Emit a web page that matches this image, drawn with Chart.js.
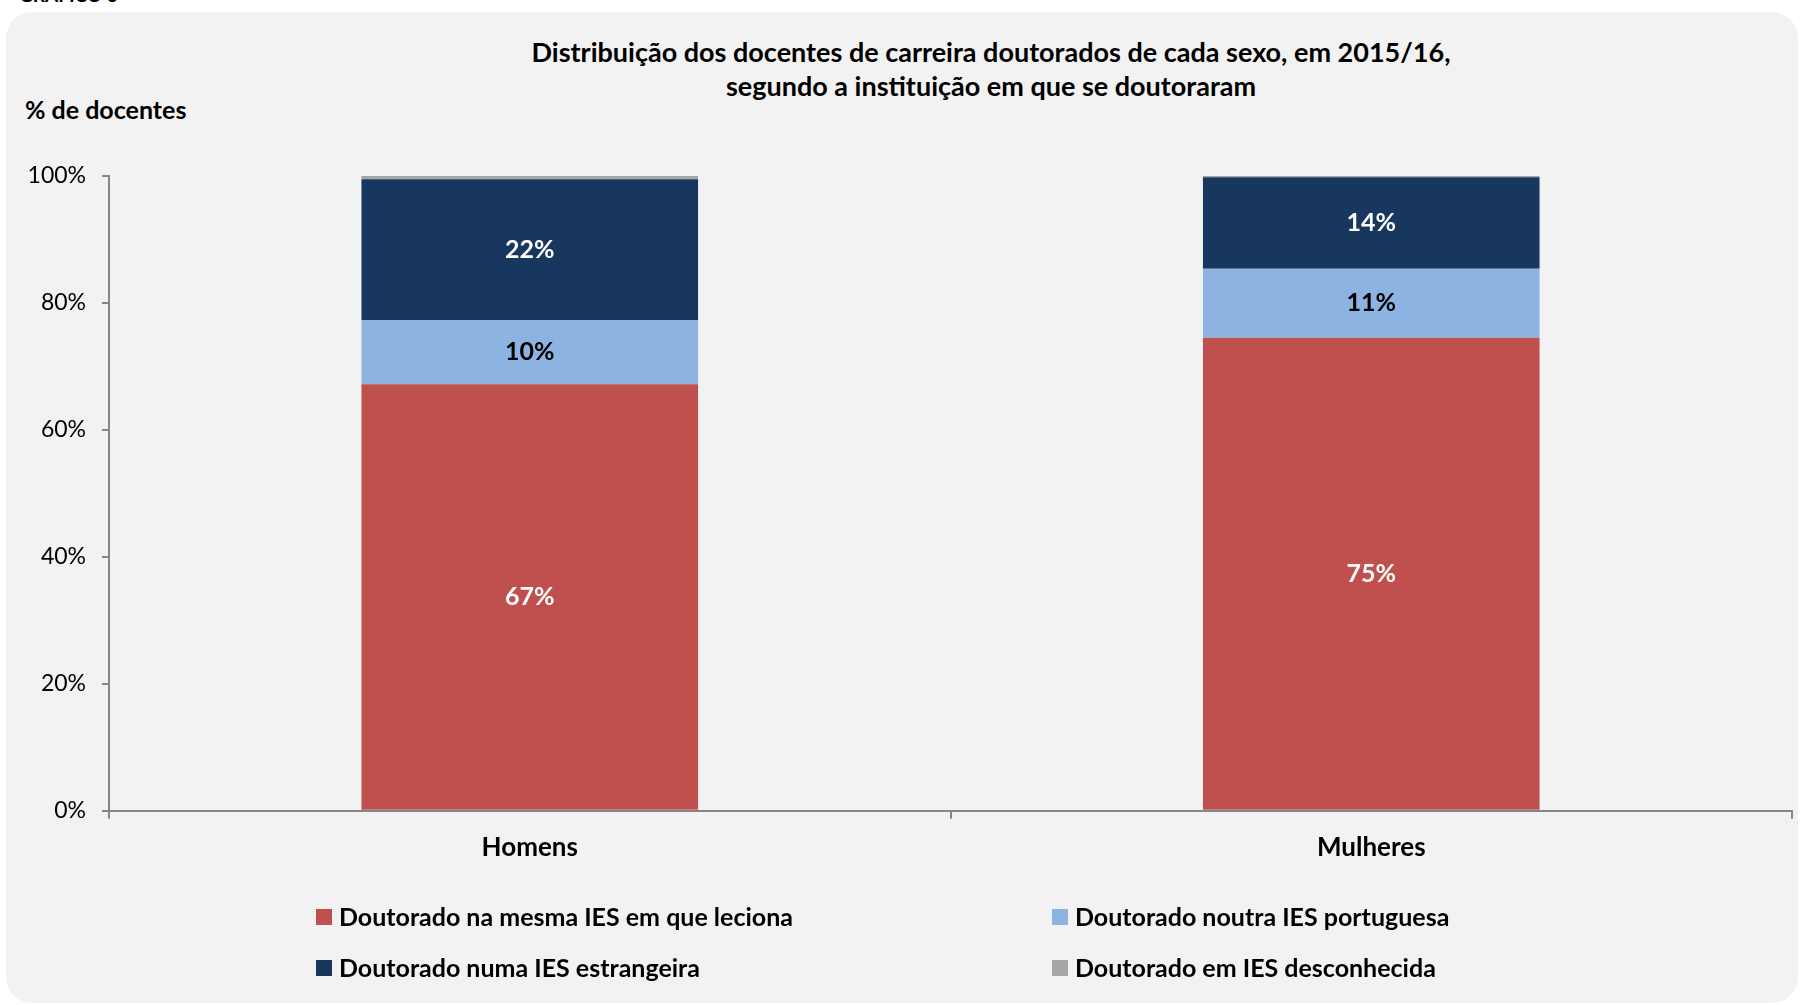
<!DOCTYPE html>
<html>
<head>
<meta charset="utf-8">
<script src="https://cdn.jsdelivr.net/npm/chart.js@4.4.1/dist/chart.umd.min.js"></script>
<style>
  html, body { margin:0; padding:0; background:#fff; }
  body { width:1803px; height:1005px; position:relative; overflow:hidden; font-family:'Lato', sans-serif; }
  .panel { position:absolute; left:6px; top:12px; width:1792px; height:991px; background:#F2F2F2; border-radius:26px; }
  .caption { position:absolute; left:19px; top:-17px; font-size:19px; font-weight:700; color:#000; }
  .title { position:absolute; left:991px; top:35px; transform:translateX(-50%); text-align:center; white-space:nowrap;
           font-size:27px; font-weight:700; line-height:34px; color:#000; }
  .ytitle { position:absolute; left:25px; top:95px; font-size:25px; font-weight:700; line-height:28px; color:#000; white-space:nowrap; }
  #wrap { position:absolute; left:0; top:0; width:1803px; height:1005px; }
</style>
</head>
<body>
<div class="panel"></div>
<div class="caption">GRÁFICO 6</div>
<div class="title">Distribuição dos docentes de carreira doutorados de cada sexo, em 2015/16,<br>segundo a instituição em que se doutoraram</div>
<div class="ytitle">% de docentes</div>
<div id="wrap"><canvas id="chart"></canvas></div>
<script>
/* ----------------------------------------------------------
   Data (% de docentes)
   ---------------------------------------------------------- */
var categories = ['Homens', 'Mulheres'];
var seriesNames = [
  'Doutorado na mesma IES em que leciona',
  'Doutorado noutra IES portuguesa',
  'Doutorado numa IES estrangeira',
  'Doutorado em IES desconhecida'
];
var mesmaIES      = [67.2, 74.5];
var outraIESPt    = [10.1, 10.9];
var iesEstrangeira = [22.2, 14.4];
var iesDesconhecida = [0.5, 0.2];
var yTicks = [0, 20, 40, 60, 80, 100];

var colors = ['#C0504D', '#8DB3E2', '#17375E', '#A6A6A6'];
var labelColors = ['#FFFFFF', '#000000', '#FFFFFF', null];

/* ----------------------------------------------------------
   Plugins: value labels + 2x2 legend
   ---------------------------------------------------------- */
var valueLabels = {
  id: 'valueLabels',
  afterDatasetsDraw: function(chart) {
    var ctx = chart.ctx;
    ctx.save();
    ctx.font = "700 25px 'Lato', sans-serif";
    ctx.textAlign = 'center';
    ctx.textBaseline = 'middle';
    chart.data.datasets.forEach(function(ds, i) {
      if (!labelColors[i]) return;
      var meta = chart.getDatasetMeta(i);
      meta.data.forEach(function(bar, j) {
        var p = bar.getProps(['x', 'y', 'base'], true);
        ctx.fillStyle = labelColors[i];
        ctx.fillText(Math.round(ds.data[j]) + '%', p.x, (p.y + p.base) / 2);
      });
    });
    ctx.restore();
  }
};

var gridLegend = {
  id: 'gridLegend',
  afterDraw: function(chart) {
    var ctx = chart.ctx;
    var cols = [316, 1052], rows = [917, 968], box = 16;
    ctx.save();
    ctx.font = "700 25px 'Lato', sans-serif";
    ctx.textBaseline = 'middle';
    ctx.textAlign = 'left';
    chart.data.datasets.forEach(function(ds, i) {
      var x = cols[i % 2], y = rows[Math.floor(i / 2)];
      ctx.fillStyle = ds.backgroundColor;
      ctx.fillRect(x, y - box / 2, box, box);
      ctx.fillStyle = '#000';
      ctx.fillText(ds.label, x + 23, y + 1);
    });
    ctx.restore();
  }
};

/* ----------------------------------------------------------
   Chart
   ---------------------------------------------------------- */
var seriesData = [mesmaIES, outraIESPt, iesEstrangeira, iesDesconhecida];

Chart.defaults.font.family = "'Lato', sans-serif";
Chart.defaults.color = '#000';

new Chart(document.getElementById('chart'), {
  type: 'bar',
  data: {
    labels: categories,
    datasets: seriesData.map(function(d, i) {
      return {
        label: seriesNames[i],
        data: d,
        backgroundColor: colors[i],
        borderWidth: 0,
        categoryPercentage: 1.0,
        barPercentage: 0.4
      };
    })
  },
  options: {
    responsive: true, maintainAspectRatio: false, animation: false,
    layout: { padding: { top: 176, left: 25, right: 11, bottom: 129 } },
    plugins: { legend: { display: false }, tooltip: { enabled: false } },
    scales: {
      x: {
        stacked: true,
        grid: { display: true, drawOnChartArea: false, drawTicks: true, tickLength: 8, color: '#868686', lineWidth: 2, offset: true },
        border: { display: true, color: '#868686', width: 2 },
        ticks: { font: { size: 26, weight: 700 }, padding: 13, color: '#000' }
      },
      y: {
        stacked: true,
        min: 0, max: 100,
        afterBuildTicks: function(s) { s.ticks = yTicks.map(function(v) { return { value: v }; }); },
        afterFit: function(s) { s.width = 84; },
        grid: { display: true, drawOnChartArea: false, drawTicks: true, tickLength: 7, color: '#868686', lineWidth: 2 },
        border: { display: true, color: '#868686', width: 2 },
        ticks: { font: { size: 23 }, padding: 16, color: '#000', callback: function(v) { return v + '%'; } }
      }
    }
  },
  plugins: [valueLabels, gridLegend]
});
</script>
</body>
</html>
